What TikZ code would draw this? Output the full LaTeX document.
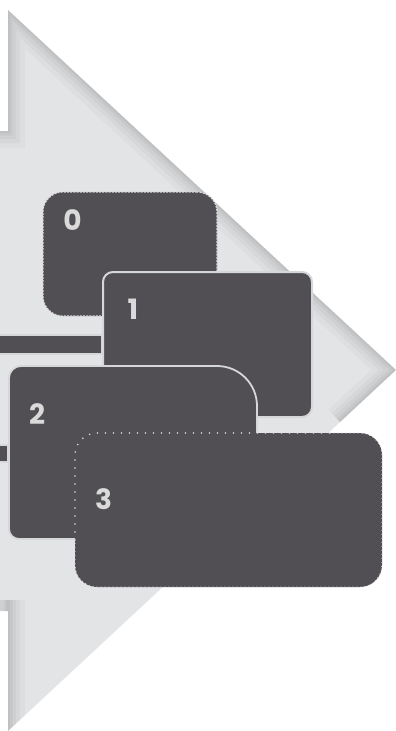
\documentclass[tikz,border=0pt]{standalone}
\usepackage{fontspec}
\setmainfont{Poppins}
\definecolor{bgray}{HTML}{E3E4E6}
\definecolor{boxfill}{HTML}{514F54}
\definecolor{edgegray}{HTML}{D6D7D9}
\definecolor{labelgray}{HTML}{DADADA}
\begin{document}
\begin{tikzpicture}[x=1pt,y=-1pt,
  darkbox/.style={rectangle,fill=boxfill,inner sep=0pt,outer sep=0pt},
  lbl/.style={text=labelgray,font=\fontsize{28}{28}\selectfont\bfseries,inner sep=0pt},
  shadowline/.style={draw=black,line join=miter}
]
\useasboundingbox (0,0) rectangle (396,731);
% big arrow
\path[fill=bgray] (8,10) -- (396,370) -- (8,731) -- (8,611) -- (-5,611) -- (-5,131) -- (8,131) -- cycle;
\begin{scope}
  \clip (8,10) -- (396,370) -- (8,731) -- (8,611) -- (-5,611) -- (-5,131) -- (8,131) -- cycle;
  \foreach \w/\o in {34/0.022,24/0.028,16/0.032,9/0.036,4/0.036} {
    \draw[shadowline,line width=\w pt,opacity=\o] (-5,131) -- (8,131) -- (8,10) -- (396,370) -- (340,422);
    \draw[shadowline,line width=\w pt,opacity=\o] (8,600) -- (8,731);
  }
\end{scope}
% bars
\node[darkbox,draw=edgegray,line width=1.2pt,minimum width=110pt,minimum height=19pt] (bar1) at (47,344.5) {};
\node[darkbox,draw=edgegray,line width=1.2pt,minimum width=16pt,minimum height=17pt] (bar2) at (0,453.5) {};
% box 0
\node[darkbox,rounded corners=20pt,minimum width=174pt,minimum height=124pt,
      draw=labelgray,line width=1.1pt,dash pattern=on 2pt off 1.2pt] (b0) at (130,254) {};
% box 1
\node[darkbox,rounded corners=10pt,minimum width=209pt,minimum height=145pt,
      draw=edgegray,line width=2pt] (b1) at (207.5,344.5) {};
% box 2
\path[fill=boxfill,draw=edgegray,line width=1.8pt]
  (9,378) arc[start angle=180,end angle=270,radius=12]
  -- (217,366) arc[start angle=270,end angle=360,radius=40]
  -- (257,539) -- (19,539) arc[start angle=90,end angle=180,radius=10] -- cycle;
\coordinate (b2) at (133,452);
% box 3
\node[darkbox,rounded corners=22pt,minimum width=307pt,minimum height=154pt] (b3) at (228.5,510) {};
\draw[labelgray,line width=1.8pt,line cap=round,dash pattern=on 0pt off 8pt]
  (75,540) -- (75,455) arc[start angle=180,end angle=270,radius=22] -- (330,433);
\draw[labelgray,line width=1.3pt,line cap=round,dash pattern=on 0pt off 4pt]
  (330,433) -- (360,433) arc[start angle=270,end angle=360,radius=22] -- (382,565)
  arc[start angle=0,end angle=90,radius=22] -- (97,587)
  arc[start angle=90,end angle=180,radius=22] -- (75,540);
% labels
\node[lbl] (l0) at (72.5,220) {0};
\node[lbl] (l1) at (133,309) {1};
\node[lbl] (l2) at (37,414) {2};
\node[lbl] (l3) at (103.5,499) {3};
\end{tikzpicture}
\end{document}
